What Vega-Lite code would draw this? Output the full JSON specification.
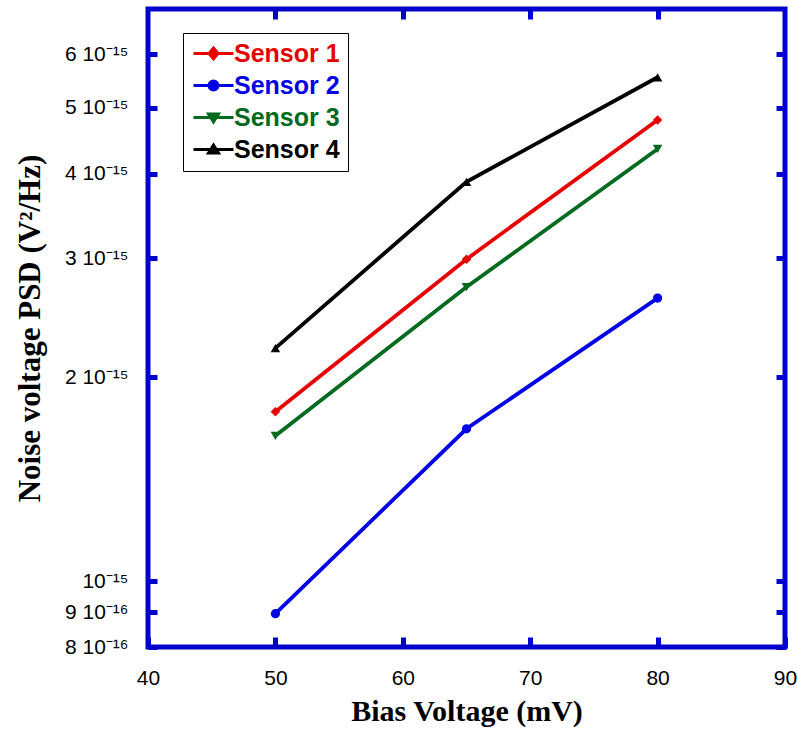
{
  "$schema": "https://vega.github.io/schema/vega-lite/v6.json",
  "autosize": {"type": "none"},
  "padding": {"left": 148, "top": 9, "right": 12, "bottom": 82},
  "width": 637,
  "height": 638,
  "background": "white",
  "config": {
    "view": {"stroke": "#0000CC", "strokeWidth": 5},
    "axis": {"grid": false, "domain": false}
  },
  "data": {
    "values": [
      {"sensor": "Sensor 1", "bias": 50, "psd": 1.78e-15},
      {"sensor": "Sensor 1", "bias": 65, "psd": 2.99e-15},
      {"sensor": "Sensor 1", "bias": 80, "psd": 4.80e-15},
      {"sensor": "Sensor 2", "bias": 50, "psd": 8.96e-16},
      {"sensor": "Sensor 2", "bias": 65, "psd": 1.68e-15},
      {"sensor": "Sensor 2", "bias": 80, "psd": 2.62e-15},
      {"sensor": "Sensor 3", "bias": 50, "psd": 1.64e-15},
      {"sensor": "Sensor 3", "bias": 65, "psd": 2.72e-15},
      {"sensor": "Sensor 3", "bias": 80, "psd": 4.35e-15},
      {"sensor": "Sensor 4", "bias": 50, "psd": 2.21e-15},
      {"sensor": "Sensor 4", "bias": 65, "psd": 3.89e-15},
      {"sensor": "Sensor 4", "bias": 80, "psd": 5.55e-15}
    ]
  },
  "layer": [
    {
      "mark": {"type": "line", "strokeWidth": 3.8, "clip": true},
      "encoding": {
        "x": {
          "field": "bias", "type": "quantitative",
          "scale": {"domain": [40, 90], "nice": false, "zero": false},
          "axis": {
            "orient": "bottom", "values": [40, 50, 60, 70, 80, 90],
            "tickSize": -10, "tickWidth": 5, "tickColor": "#0000CC",
            "labelPadding": 30, "labelFont": "Liberation Sans", "labelFontSize": 21, "labelColor": "black",
            "labelFlush": false,
            "title": "Bias Voltage (mV)", "titleFont": "Liberation Serif", "titleFontSize": 30,
            "titleFontWeight": "bold", "titleColor": "black", "titlePadding": 8
          }
        },
        "y": {
          "field": "psd", "type": "quantitative",
          "scale": {"type": "log", "domain": [8e-16, 7e-15], "nice": false},
          "axis": {
            "orient": "left",
            "values": [8e-16, 9e-16, 1e-15, 2e-15, 3e-15, 4e-15, 5e-15, 6e-15],
            "labelExpr": "(round(datum.value/pow(10,floor(log(datum.value)/LN10+1e-6)))==1 ? '' : round(datum.value/pow(10,floor(log(datum.value)/LN10+1e-6))) + ' ') + '10' + (floor(log(datum.value)/LN10+1e-6) == -15 ? '⁻¹⁵' : '⁻¹⁶')",
            "tickSize": -9, "tickWidth": 5, "tickColor": "#0000CC",
            "labelPadding": 29, "labelFont": "Liberation Sans", "labelFontSize": 21, "labelColor": "black",
            "labelFlush": false,
            "title": "Noise voltage PSD (V²/Hz)", "titleFont": "Liberation Serif", "titleFontSize": 31,
            "titleFontWeight": "bold", "titleColor": "black", "titlePadding": 18
          }
        },
        "color": {
          "field": "sensor", "type": "nominal",
          "scale": {"domain": ["Sensor 1", "Sensor 2", "Sensor 3", "Sensor 4"], "range": ["#E60000", "#0000E6", "#006A1E", "#000000"]},
          "legend": {
            "orient": "none", "legendX": 35, "legendY": 24,
            "title": null, "padding": 8, "strokeColor": "black", "fillColor": "white",
            "symbolSize": 400, "labelOffset": 18, "rowPadding": 6,
            "labelFont": "Liberation Sans", "labelFontSize": 25, "labelFontWeight": "bold",
            "symbolStrokeWidth": 3,
            "encode": {
              "symbols": {"update": {
                "shape": {"signal": "datum.value == 'Sensor 1' ? 'M-1,0H3M1,-0.55L1.45,0L1,0.55L0.55,0Z' : datum.value == 'Sensor 2' ? 'M-1,0H3M0.55,0A0.45,0.45,0,1,0,1.45,0A0.45,0.45,0,1,0,0.55,0Z' : datum.value == 'Sensor 3' ? 'M-1,0H3M0.5,-0.35L1.5,-0.35L1,0.45Z' : 'M-1,0H3M0.5,0.35L1.5,0.35L1,-0.45Z'"},
                "fill": {"scale": "color", "field": "value"},
                "stroke": {"scale": "color", "field": "value"},
                "strokeWidth": {"value": 3},
                "opacity": {"value": 1}
              }},
              "labels": {"update": {"fill": {"scale": "color", "field": "value"}}}
            }
          }
        }
      }
    },
    {
      "transform": [{"filter": "datum.sensor == 'Sensor 1'"}],
      "mark": {"type": "point", "shape": "diamond", "filled": true, "size": 90, "opacity": 1},
      "encoding": {
        "x": {
          "field": "bias", "type": "quantitative",
          "axis": {"orient": "top", "values": [50, 60, 70, 80], "labels": false, "title": null,
                   "tickSize": -10, "tickWidth": 5, "tickColor": "#0000CC"}
        },
        "y": {
          "field": "psd", "type": "quantitative",
          "axis": {"orient": "right", "values": [8e-16, 9e-16, 1e-15, 2e-15, 3e-15, 4e-15, 5e-15, 6e-15],
                   "labels": false, "title": null,
                   "tickSize": -9, "tickWidth": 5, "tickColor": "#0000CC"}
        },
        "color": {"field": "sensor", "type": "nominal"}
      }
    },
    {
      "transform": [{"filter": "datum.sensor == 'Sensor 2'"}],
      "mark": {"type": "point", "shape": "circle", "filled": true, "size": 85, "opacity": 1},
      "encoding": {
        "x": {"field": "bias", "type": "quantitative", "axis": null},
        "y": {"field": "psd", "type": "quantitative", "axis": null},
        "color": {"field": "sensor", "type": "nominal"}
      }
    },
    {
      "transform": [{"filter": "datum.sensor == 'Sensor 3'"}],
      "mark": {"type": "point", "shape": "triangle-down", "filled": true, "size": 90, "opacity": 1},
      "encoding": {
        "x": {"field": "bias", "type": "quantitative", "axis": null},
        "y": {"field": "psd", "type": "quantitative", "axis": null},
        "color": {"field": "sensor", "type": "nominal"}
      }
    },
    {
      "transform": [{"filter": "datum.sensor == 'Sensor 4'"}],
      "mark": {"type": "point", "shape": "triangle-up", "filled": true, "size": 90, "opacity": 1},
      "encoding": {
        "x": {"field": "bias", "type": "quantitative", "axis": null},
        "y": {"field": "psd", "type": "quantitative", "axis": null},
        "color": {"field": "sensor", "type": "nominal"}
      }
    }
  ]
}
